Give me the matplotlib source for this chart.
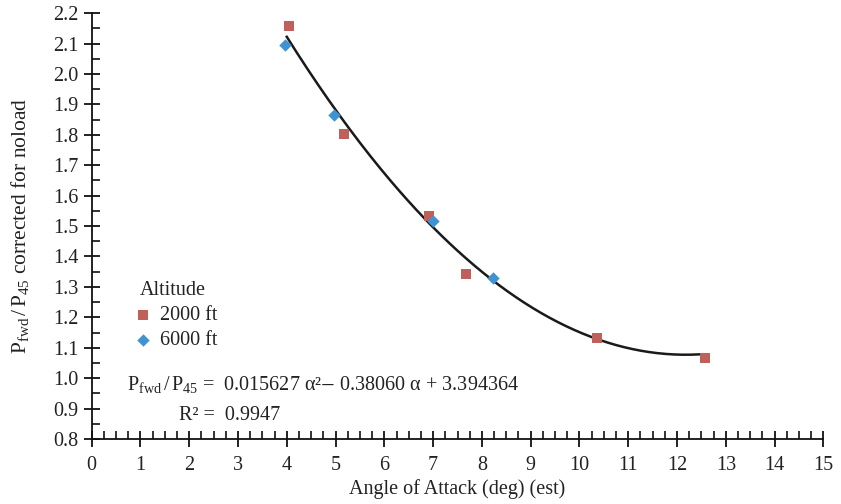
import matplotlib
matplotlib.use("Agg")
import matplotlib.pyplot as plt
import numpy as np
from matplotlib.ticker import MultipleLocator

plt.rcParams['font.family'] = ['Liberation Serif', 'DejaVu Serif']
plt.rcParams['mathtext.fontset'] = 'stix'

# data
aoa_2000 = [4.05, 5.18, 6.92, 7.68, 10.36, 12.57]
ratio_2000 = [2.157, 1.803, 1.533, 1.342, 1.133, 1.066]
aoa_6000 = [3.97, 4.97, 7.0, 8.22]
ratio_6000 = [2.095, 1.866, 1.515, 1.330]

# quadratic fit given on the chart: a2, a1, a0
fit_coef = [0.015627, -0.38060, 3.394364]
fit_range = [4.0, 12.5]

text_color = '#222222'

fig = plt.figure(figsize=(8.41, 5.04), dpi=100)
ax = fig.add_axes([0.109, 0.129, 0.870, 0.845])

xs = np.linspace(fit_range[0], fit_range[1], 200)
ax.plot(xs, np.polyval(fit_coef, xs), color='#1a1a1a', lw=1.8, zorder=2)

ax.scatter(aoa_2000, ratio_2000, marker='s', s=55, color='#c0605a',
           label='2000 ft', zorder=3, linewidths=0)
ax.scatter(aoa_6000, ratio_6000, marker='D', s=40, color='#3f93d2',
           label='6000 ft', zorder=3, linewidths=0)

ax.set_xlim(0, 15)
ax.set_ylim(0.8, 2.2)
ax.xaxis.set_major_locator(MultipleLocator(1))
ax.xaxis.set_minor_locator(MultipleLocator(0.25))
ax.yaxis.set_major_locator(MultipleLocator(0.1))
ax.yaxis.set_minor_locator(MultipleLocator(0.05))
ax.yaxis.set_major_formatter(matplotlib.ticker.FormatStrFormatter('%.1f'))

for s in ['top', 'right']:
    ax.spines[s].set_visible(False)
for s in ['left', 'bottom']:
    ax.spines[s].set_linewidth(1.3)
    ax.spines[s].set_color('#111111')

ax.tick_params(axis='both', which='major', direction='inout', length=12,
               width=1.3, labelsize=14.5, labelcolor=text_color, color='#111111')
ax.tick_params(axis='both', which='minor', direction='in', length=6,
               width=1.2, color='#111111')
ax.tick_params(axis='x', which='major', pad=6)

ax.set_xlabel('Angle of Attack (deg) (est)', fontsize=14.5, color=text_color, labelpad=3)
ax.set_ylabel(r'$\mathregular{P_{fwd}\,/\,P_{45}}$ corrected for noload',
              fontsize=15.5, color=text_color, labelpad=16)

leg = ax.legend(title='Altitude', loc='upper left', bbox_to_anchor=(0.055, 0.39),
                frameon=False, fontsize=14.5, title_fontsize=14.5, handletextpad=0.7,
                borderaxespad=0, labelspacing=0.3, handlelength=0.3,
                alignment='left', labelcolor=text_color)
leg.get_title().set_color(text_color)

ax.text(0.048, 0.128,
        r'$\mathregular{P_{fwd}\,/\,P_{45}}$ =  0.015627 α²$-$ 0.38060 α + 3.394364',
        transform=ax.transAxes, fontsize=14.5, color=text_color, va='center', ha='left')
ax.text(0.12, 0.055, 'R² =  0.9947', transform=ax.transAxes,
        fontsize=14.5, color=text_color, va='center', ha='left')

fig.savefig('out.png', dpi=100)
